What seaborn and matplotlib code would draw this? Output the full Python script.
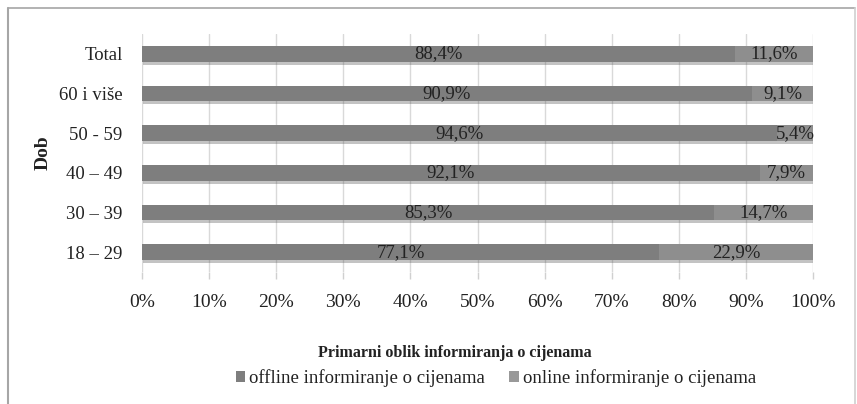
import matplotlib
matplotlib.use("Agg")
import matplotlib.pyplot as plt
import matplotlib.patheffects as pe
from matplotlib.lines import Line2D
from matplotlib.patches import Patch
import seaborn as sns
import pandas as pd
import numpy as np

categories = ["Total", "60 i više", "50 - 59", "40 – 49", "30 – 39", "18 – 29"]
offline = [88.4, 90.9, 94.6, 92.1, 85.3, 77.1]
online = [11.6, 9.1, 5.4, 7.9, 14.7, 22.9]
offline_labels = ["88,4%", "90,9%", "94,6%", "92,1%", "85,3%", "77,1%"]
online_labels = ["11,6%", "9,1%", "5,4%", "7,9%", "14,7%", "22,9%"]
xticks = [0, 10, 20, 30, 40, 50, 60, 70, 80, 90, 100]
xtick_labels = [f"{t}%" for t in xticks]
series_names = ["offline informiranje o cijenama", "online informiranje o cijenama"]

sns.set_theme(style="white")
plt.rcParams["font.family"] = ["Liberation Serif", "DejaVu Serif"]

c_off = "#7e7e7e"
c_on = "#8e8e8e"
txt = "#222222"

df = pd.DataFrame({"Dob": categories, "offline": offline, "online": online})
df["total"] = df["offline"] + df["online"]

fig = plt.figure(figsize=(8.57, 4.04), dpi=100)
ax = fig.add_axes([142/857, 1-272/404, (813-142)/857, (272-34)/404])

sns.barplot(data=df, x="total", y="Dob", orient="h", color=c_on, saturation=1,
            width=0.4, ax=ax, order=categories, linewidth=0)
nb = len(ax.patches)
for p in ax.patches[:nb]:
    p.set_path_effects([pe.SimplePatchShadow(offset=(0.5, -2), alpha=0.35, shadow_rgbFace="#555555"), pe.Normal()])
sns.barplot(data=df, x="offline", y="Dob", orient="h", color=c_off, saturation=1,
            width=0.4, ax=ax, order=categories, linewidth=0)

for i in range(len(categories)):
    ax.text(offline[i] / 2, i, offline_labels[i], ha="center", va="center",
            fontsize=13.5, color=txt)
    ax.text(offline[i] + online[i] / 2, i, online_labels[i], ha="center", va="center",
            fontsize=13.5, color=txt)

ax.set_xlim(0, 100)
ax.set_ylim(len(categories) - 0.5, -0.5)
ax.set_xticks(xticks)
ax.set_xticklabels(xtick_labels, fontsize=14, color=txt)
ax.tick_params(axis="x", length=5, width=1, color="#d0d0d0", pad=11, bottom=True)
ax.tick_params(axis="y", length=0, pad=14, labelsize=13.5, labelcolor=txt)
ax.xaxis.grid(True, color="#d9d9d9", linewidth=1)
ax.set_axisbelow(True)
for s in ax.spines.values():
    s.set_visible(False)
ax.set_xlabel("")
ax.set_ylabel("Dob", fontsize=14, fontweight="bold", color=txt, labelpad=5)

fig.text(455/857, 1-353/404, "Primarni oblik informiranja o cijenama",
         ha="center", va="center", fontsize=11.5, fontweight="bold", color=txt)

handles = [Patch(facecolor=c_off, edgecolor="none"), Patch(facecolor="#999999", edgecolor="none")]
fig.legend(handles, series_names, loc="center", bbox_to_anchor=(496/857, 1-378/404),
           ncol=2, frameon=False, fontsize=13.5, handlelength=0.5, handleheight=0.5,
           handletextpad=0.2, columnspacing=1.3, labelcolor=txt)

# outer frame
fc = "#a6a6a6"
fig.add_artist(Line2D([8/857, 8/857], [0, 1-8/404], color=fc, linewidth=1.5, transform=fig.transFigure))
fig.add_artist(Line2D([8/857, 855/857], [1-8/404, 1-8/404], color=fc, linewidth=1.2, transform=fig.transFigure))
fig.add_artist(Line2D([855/857, 855/857], [0, 1-8/404], color="#d0d0d0", linewidth=1.2, transform=fig.transFigure))

fig.savefig("out.png", dpi=100)
